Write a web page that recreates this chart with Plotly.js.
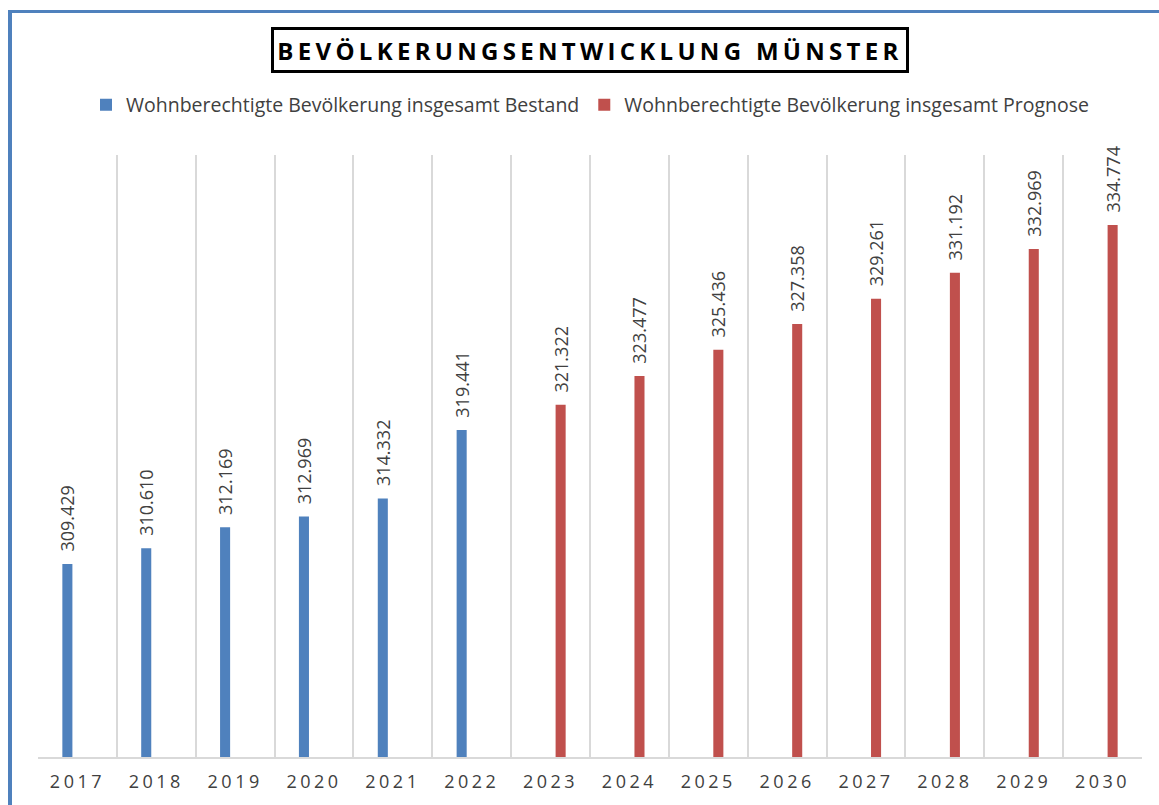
<!DOCTYPE html>
<html>
<head>
<meta charset="utf-8">
<script src="https://cdn.plot.ly/plotly-3.0.1.min.js"></script>
<style>
  body { margin: 0; background: #fff; }
  #frame { position: absolute; left: 8px; top: 10px; width: 1151px; height: 795px;
           border-left: 4px solid #4f81bd; border-top: 3px solid #4f81bd; }
  #chart { position: absolute; left: 0; top: 0; width: 1159px; height: 805px; }
  .annotation-text { letter-spacing: 4.3px; }
  .xtick text { letter-spacing: 3.5px; }
</style>
</head>
<body>
<div id="frame"></div>
<div id="chart"></div>
<script>
// Jahre (Kategorien)
var years = ["2017", "2018", "2019", "2020", "2021", "2022", "2023",
             "2024", "2025", "2026", "2027", "2028", "2029", "2030"];

// Bestand (bis 2022), Prognose (ab 2023)
var bestand = [309429, 310610, 312169, 312969, 314332, 319441,
               null, null, null, null, null, null, null, null];
var prognose = [null, null, null, null, null, null,
                321322, 323477, 325436, 327358, 329261, 331192, 332969, 334774];

var labelFont = {family: "Open Sans", size: 18, color: "#404040"};

var traceBestand = {
  x: years,
  y: bestand,
  type: "bar",
  name: "Wohnberechtigte Bevölkerung insgesamt Bestand",
  marker: {color: "#4f81bd"},
  texttemplate: "\u00a0\u00a0%{y:,.0f}",
  textposition: "outside",
  textangle: -90,
  constraintext: "none",
  cliponaxis: false,
  outsidetextfont: labelFont,
  hoverinfo: "x+y"
};

var tracePrognose = {
  x: years,
  y: prognose,
  type: "bar",
  name: "Wohnberechtigte Bevölkerung insgesamt Prognose",
  marker: {color: "#c0504d"},
  texttemplate: "\u00a0\u00a0%{y:,.0f}",
  textposition: "outside",
  textangle: -90,
  constraintext: "none",
  cliponaxis: false,
  outsidetextfont: labelFont,
  hoverinfo: "x+y"
};

var data = [traceBestand, tracePrognose];

var layout = {
  width: 1159,
  height: 805,
  margin: {l: 38, r: 17, t: 155, b: 48},
  paper_bgcolor: "rgba(0,0,0,0)",
  plot_bgcolor: "rgba(0,0,0,0)",
  separators: ",.",
  barmode: "group",
  bargap: 0.49,
  bargroupgap: 0.5,
  showlegend: true,
  legend: {
    orientation: "h",
    x: 0.5, xanchor: "center",
    y: 1.083, yanchor: "middle",
    font: {family: "Open Sans", size: 19.5, color: "#404040"},
    itemwidth: 30
  },
  xaxis: {
    type: "category",
    tickson: "boundaries",
    showgrid: true,
    gridcolor: "#d9d9d9",
    gridwidth: 1.5,
    showline: true,
    linecolor: "#d9d9d9",
    linewidth: 1.5,
    ticks: "",
    ticklabelstandoff: 8,
    tickfont: {family: "Open Sans", size: 18, color: "#404040"},
    fixedrange: true
  },
  yaxis: {
    range: [295000, 340000],
    visible: false,
    showgrid: false,
    zeroline: false,
    fixedrange: true
  },
  annotations: [{
    text: "<b>BEVÖLKERUNGSENTWICKLUNG MÜNSTER</b>",
    xref: "paper", yref: "paper",
    x: 0.5, y: 1.175,
    xanchor: "center", yanchor: "middle",
    showarrow: false,
    font: {family: "Open Sans", size: 24, color: "#000"},
    bordercolor: "#000",
    borderwidth: 3,
    borderpad: 2,
    bgcolor: "#fff",
    width: 628,
    height: 36
  }]
};

Plotly.newPlot("chart", data, layout, {displayModeBar: false});
</script>
</body>
</html>
